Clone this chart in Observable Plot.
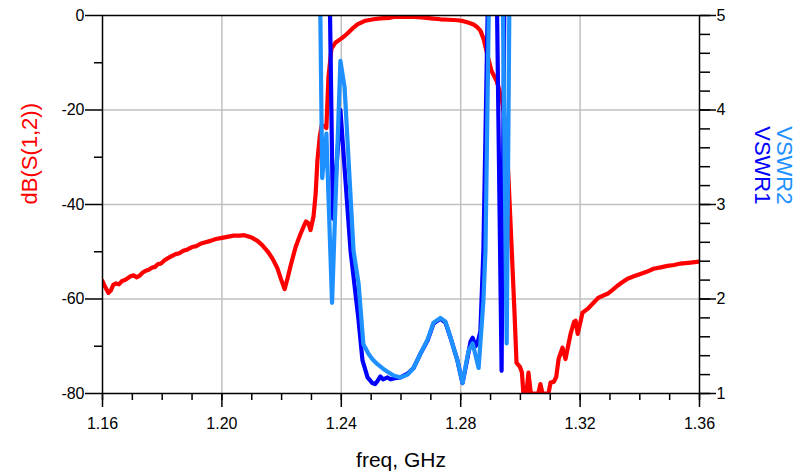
<!DOCTYPE html>
<html><head><meta charset="utf-8">
<script src="https://cdn.jsdelivr.net/npm/d3@7"></script>
<script src="https://cdn.jsdelivr.net/npm/@observablehq/plot@0.6"></script>
<style>body{margin:0;background:#fff;}</style>
</head><body><div id="chart"></div>
<script>
// dB(S(1,2)) : [freq GHz, dB]
const s12 = [[1.1600,-56.2],[1.1604,-56.8],[1.1612,-57.8],[1.1620,-58.7],[1.1628,-58.2],[1.1636,-57.0],[1.1645,-56.7],[1.1655,-56.9],[1.1665,-56.2],[1.1675,-56.0],[1.1684,-55.6],[1.1694,-55.2],[1.1704,-55.0],[1.1714,-55.4],[1.1724,-55.1],[1.1735,-54.4],[1.1745,-54.0],[1.1755,-53.8],[1.1765,-53.4],[1.1776,-53.2],[1.1786,-52.6],[1.1796,-52.5],[1.1808,-51.8],[1.1818,-51.4],[1.1830,-51.0],[1.1845,-50.5],[1.1858,-50.3],[1.1871,-49.8],[1.1885,-49.5],[1.1900,-49.0],[1.1915,-48.8],[1.1928,-48.3],[1.1945,-48.0],[1.1962,-47.7],[1.1980,-47.3],[1.2005,-47.0],[1.2022,-46.8],[1.2039,-46.6],[1.2060,-46.6],[1.2075,-46.5],[1.2086,-46.7],[1.2100,-47.0],[1.2119,-47.7],[1.2135,-48.6],[1.2153,-49.9],[1.2170,-51.5],[1.2186,-53.5],[1.2198,-55.8],[1.2210,-57.9],[1.2220,-55.6],[1.2230,-53.0],[1.2247,-49.0],[1.2263,-46.3],[1.2275,-44.5],[1.2282,-43.6],[1.2290,-44.0],[1.2297,-45.4],[1.2307,-42.5],[1.2314,-37.8],[1.2320,-30.7],[1.2328,-25.5],[1.2334,-23.3],[1.2344,-23.4],[1.2350,-23.8],[1.2357,-13.0],[1.2367,-7.0],[1.2381,-5.7],[1.2397,-5.0],[1.2410,-4.4],[1.2424,-3.6],[1.2440,-2.6],[1.2454,-1.9],[1.2470,-1.4],[1.2481,-1.1],[1.2508,-0.8],[1.2531,-0.6],[1.2560,-0.5],[1.2575,-0.3],[1.2610,-0.3],[1.2642,-0.3],[1.2670,-0.4],[1.2700,-0.6],[1.2732,-0.8],[1.2760,-0.9],[1.2790,-1.0],[1.2809,-1.2],[1.2825,-1.5],[1.2843,-1.9],[1.2856,-2.5],[1.2866,-3.2],[1.2877,-5.0],[1.2890,-8.5],[1.2903,-11.7],[1.2920,-13.8],[1.2937,-17.4],[1.2950,-23.0],[1.2960,-34.3],[1.2970,-48.3],[1.2980,-62.5],[1.2987,-73.5],[1.2998,-74.3],[1.3005,-75.5],[1.3010,-80],[1.3020,-80],[1.3027,-75.6],[1.3035,-80],[1.3060,-80],[1.3067,-78.0],[1.3074,-80],[1.3094,-80],[1.3101,-77.7],[1.3112,-77.5],[1.3120,-76.5],[1.3128,-72.7],[1.3141,-70.3],[1.3151,-72.7],[1.3168,-67.4],[1.3180,-64.8],[1.3185,-64.6],[1.3192,-67.4],[1.3208,-62.9],[1.3225,-62.1],[1.3245,-60.8],[1.3262,-59.7],[1.3280,-59.2],[1.3292,-58.9],[1.3310,-58.0],[1.3325,-57.2],[1.3340,-56.5],[1.3359,-55.7],[1.3380,-55.2],[1.3402,-54.7],[1.3425,-54.2],[1.3446,-53.6],[1.3470,-53.3],[1.3493,-53.0],[1.3515,-52.8],[1.3536,-52.5],[1.3570,-52.3],[1.3600,-52.1]];

// VSWR1 : [freq GHz, VSWR]  (values above 5 run off the top of the plot)
const vswr1 = [[1.1600,5.5],[1.2360,5.5],[1.2372,2.85],[1.2397,4.0],[1.2431,2.51],[1.2457,1.80],[1.2471,1.35],[1.2488,1.17],[1.2504,1.11],[1.2513,1.10],[1.2521,1.13],[1.2531,1.18],[1.2540,1.15],[1.2555,1.17],[1.2565,1.15],[1.2575,1.16],[1.2598,1.17],[1.2622,1.21],[1.2642,1.27],[1.2665,1.42],[1.2689,1.56],[1.2709,1.74],[1.2732,1.79],[1.2749,1.75],[1.2766,1.59],[1.2789,1.35],[1.2806,1.11],[1.2823,1.38],[1.2833,1.55],[1.2840,1.59],[1.2850,1.50],[1.2856,1.53],[1.2866,1.66],[1.2876,2.51],[1.2893,5.5],[1.2920,5.5],[1.2937,1.24],[1.2947,5.5],[1.3600,5.5]];

// VSWR2 : [freq GHz, VSWR]
const vswr2 = [[1.1600,5.5],[1.2328,5.5],[1.2336,3.28],[1.2350,3.75],[1.2369,1.96],[1.2397,4.52],[1.2411,4.24],[1.2441,2.51],[1.2458,2.16],[1.2474,1.52],[1.2491,1.42],[1.2505,1.36],[1.2521,1.31],[1.2541,1.26],[1.2555,1.23],[1.2575,1.19],[1.2598,1.17],[1.2622,1.20],[1.2642,1.27],[1.2665,1.42],[1.2689,1.57],[1.2709,1.75],[1.2732,1.80],[1.2749,1.76],[1.2766,1.59],[1.2789,1.35],[1.2806,1.11],[1.2826,1.45],[1.2840,1.53],[1.2860,1.27],[1.2876,1.98],[1.2883,2.51],[1.2896,5.5],[1.2940,5.5],[1.2954,1.53],[1.2964,5.5],[1.3600,5.5]];

const xTicks = [1.16, 1.20, 1.24, 1.28, 1.32, 1.36];
const xGrid = [1.20, 1.24, 1.28, 1.32];
const xMinor = d3.range(0, 21).map(i => +(1.16 + i * 0.01).toFixed(2));
const yTicks = [0, -20, -40, -60, -80];
const yGrid = [-20, -40, -60];
const yMinor = [-10, -30, -50, -70];
const vswrTicks = [1, 2, 3, 4, 5];
const vswrMinor = d3.range(0, 21).map(i => +(1 + i * 0.2).toFixed(1));

const xLabel = "freq, GHz";
const yLabel = "dB(S(1,2))";
const rLabels = ["VSWR2", "VSWR1"];

// right (VSWR) axis shares the left scale: VSWR 1..5 <-> dB -80..0
const toDb = v => (v - 5) * 20;

const font = "'Liberation Sans', Arial, sans-serif";

const chart = Plot.plot({
  width: 806,
  height: 473,
  marginLeft: 102,
  marginRight: 107,
  marginTop: 15,
  marginBottom: 80,
  style: {fontFamily: font, fontSize: "16px", color: "black", background: "white"},
  x: {domain: [1.16, 1.36], axis: null},
  y: {domain: [-80, 0], axis: null},
  marks: [
    Plot.gridX(xGrid, {stroke: "#c0c0c0", strokeOpacity: 1, strokeWidth: 1.5}),
    Plot.gridY(yGrid, {stroke: "#c0c0c0", strokeOpacity: 1, strokeWidth: 1.5}),
    Plot.line(s12, {x: d => d[0], y: d => d[1], stroke: "#ff0000", strokeWidth: 4.2, clip: true}),
    Plot.line(vswr1, {x: d => d[0], y: d => toDb(d[1]), stroke: "#0000ff", strokeWidth: 4.2, clip: true}),
    Plot.line(vswr2, {x: d => d[0], y: d => toDb(d[1]), stroke: "#1e90ff", strokeWidth: 4.2, clip: true}),
    Plot.frame({stroke: "#000", strokeWidth: 1.5}),
    Plot.axisX(xMinor, {anchor: "bottom", tickSize: 7, tickFormat: () => "", label: null, strokeWidth: 1.5}),
    Plot.axisX(xTicks, {anchor: "bottom", tickSize: 14, tickPadding: 10, tickFormat: d => d.toFixed(2), label: null, strokeWidth: 1.5, fontSize: 16}),
    Plot.axisY(yMinor, {anchor: "left", tickSize: 8, tickFormat: () => "", label: null, strokeWidth: 1.5}),
    Plot.axisY(yTicks, {anchor: "left", tickSize: 17, tickPadding: 1, tickFormat: d => String(d), label: null, strokeWidth: 1.5, fontSize: 16}),
    Plot.axisY(vswrMinor.map(toDb), {anchor: "right", tickSize: 10, tickFormat: () => "", label: null, strokeWidth: 1.5}),
    Plot.axisY(vswrTicks.map(toDb), {anchor: "right", tickSize: 16, tickPadding: 1, tickFormat: d => String(Math.round(d / 20 + 5)), label: null, strokeWidth: 1.5, fontSize: 16}),
    Plot.text([xLabel], {frameAnchor: "bottom", dy: 67, fontSize: 21, fill: "black", lineAnchor: "middle"}),
    Plot.text([yLabel], {frameAnchor: "left", dx: -73, rotate: -90, fontSize: 22, fill: "#ff0000", lineAnchor: "middle"}),
    Plot.text([rLabels[0]], {frameAnchor: "right", dx: 85, rotate: 90, fontSize: 22, fill: "#1e90ff", lineAnchor: "middle"}),
    Plot.text([rLabels[1]], {frameAnchor: "right", dx: 63, rotate: 90, fontSize: 22, fill: "#0000ff", lineAnchor: "middle"})
  ]
});
document.getElementById("chart").appendChild(chart);
</script>
</body></html>
